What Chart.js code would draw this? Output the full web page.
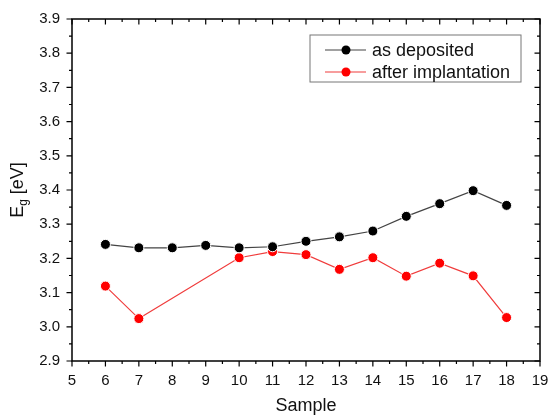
<!DOCTYPE html>
<html>
<head>
<meta charset="utf-8">
<script src="https://cdn.jsdelivr.net/npm/chart.js@4/dist/chart.umd.min.js"></script>
<style>
  html, body { margin: 0; padding: 0; background: #fff; }
  #wrap { width: 550px; height: 417px; }
</style>
</head>
<body>
<div id="wrap"><canvas id="chart" width="550" height="417"></canvas></div>
<script>
// === ДАННЫЕ ===
const samplesDeposited = [6, 7, 8, 9, 10, 11, 12, 13, 14, 15, 16, 17, 18];
const egDeposited = [3.241, 3.231, 3.231, 3.238, 3.231, 3.234, 3.250, 3.263, 3.280, 3.323, 3.360, 3.398, 3.355];

const samplesImplanted = [6, 7, 10, 11, 12, 13, 14, 15, 16, 17, 18];
const egImplanted = [3.119, 3.024, 3.202, 3.220, 3.211, 3.168, 3.202, 3.148, 3.186, 3.149, 3.027];

const seriesNames = ['as deposited', 'after implantation'];
const xRange = [5, 19];
const yRange = [2.9, 3.9];

const FONT = '"Liberation Sans", Arial, sans-serif';

function toPoints(xs, ys) {
    return xs.map((x, i) => ({ x: x, y: ys[i] }));
}

// === РАМКА И ДЕЛЕНИЯ ===
const framePlugin = {
    id: 'frame',
    afterDraw(chart) {
        const ctx = chart.ctx;
        const a = chart.chartArea;
        const xs = chart.scales.x;
        const ys = chart.scales.y;
        ctx.save();
        ctx.strokeStyle = '#000';
        ctx.lineWidth = 1.5;
        ctx.strokeRect(a.left, a.top, a.right - a.left, a.bottom - a.top);
        ctx.lineWidth = 1.2;
        ctx.beginPath();
        // x: основные и промежуточные деления
        for (let v = xRange[0]; v <= xRange[1] + 1e-9; v += 0.5) {
            const px = xs.getPixelForValue(v);
            const major = Math.abs(v - Math.round(v)) < 1e-9;
            const len = major ? 5.5 : 3;
            ctx.moveTo(px, a.bottom); ctx.lineTo(px, a.bottom + len);
            ctx.moveTo(px, a.top); ctx.lineTo(px, a.top + len);
        }
        // y
        for (let k = 0; k <= 20; k++) {
            const v = yRange[0] + k * 0.05;
            const py = ys.getPixelForValue(v);
            const len = k % 2 === 0 ? 5.5 : 3;
            ctx.moveTo(a.left, py); ctx.lineTo(a.left - len, py);
            ctx.moveTo(a.right, py); ctx.lineTo(a.right - len, py);
        }
        ctx.stroke();

        // подпись оси Y: E_g [eV]
        ctx.translate(18, (a.top + a.bottom) / 2);
        ctx.rotate(-Math.PI / 2);
        ctx.fillStyle = '#111';
        ctx.textBaseline = 'middle';
        ctx.font = '18px ' + FONT;
        const wE = ctx.measureText('E').width;
        ctx.font = '12px ' + FONT;
        const wg = ctx.measureText('g').width;
        ctx.font = '18px ' + FONT;
        const wRest = ctx.measureText(' [eV]').width;
        let x0 = -(wE + wg + wRest) / 2;
        ctx.fillText('E', x0, 0);
        ctx.font = '12px ' + FONT;
        ctx.fillText('g', x0 + wE, 6);
        ctx.font = '18px ' + FONT;
        ctx.fillText(' [eV]', x0 + wE + wg, 0);
        ctx.restore();

        // легенда
        ctx.save();
        const bx = a.left + 238, by = a.top + 16, bw = 211, bh = 47;
        ctx.strokeStyle = '#777';
        ctx.lineWidth = 1;
        ctx.strokeRect(bx, by, bw, bh);
        ctx.font = '18px ' + FONT;
        ctx.textBaseline = 'middle';
        chart.data.datasets.forEach((ds, i) => {
            const cy = by + 15 + i * 22;
            ctx.strokeStyle = ds.borderColor;
            ctx.lineWidth = 1.2;
            ctx.beginPath();
            ctx.moveTo(bx + 15, cy); ctx.lineTo(bx + 56, cy);
            ctx.stroke();
            ctx.beginPath();
            ctx.arc(bx + 36, cy, 4.5, 0, Math.PI * 2);
            ctx.fillStyle = ds.pointBackgroundColor;
            ctx.fill();
            ctx.fillStyle = '#111';
            ctx.fillText(ds.label, bx + 62, cy + 1);
        });
        ctx.restore();
    }
};

const chart = new Chart(document.getElementById('chart').getContext('2d'), {
    type: 'line',
    data: {
        datasets: [{
            label: seriesNames[0],
            data: toPoints(samplesDeposited, egDeposited),
            borderColor: '#444',
            borderWidth: 1.2,
            pointBackgroundColor: '#000',
            pointBorderColor: '#fff',
            pointBorderWidth: 1,
            pointRadius: 5,
            tension: 0
        }, {
            label: seriesNames[1],
            data: toPoints(samplesImplanted, egImplanted),
            borderColor: '#f03c3c',
            borderWidth: 1.2,
            pointBackgroundColor: '#ff0000',
            pointBorderColor: '#fff',
            pointBorderWidth: 1,
            pointRadius: 5,
            tension: 0
        }]
    },
    options: {
        responsive: false,
        animation: false,
        layout: { padding: { top: 19, right: 10, left: 0, bottom: 0 } },
        plugins: { legend: { display: false }, tooltip: { enabled: false } },
        scales: {
            x: {
                type: 'linear',
                min: xRange[0], max: xRange[1],
                grid: { display: false, drawTicks: false },
                border: { display: false },
                ticks: { stepSize: 1, padding: 11, color: '#111', font: { size: 15, family: FONT } },
                title: { display: true, text: 'Sample', color: '#111', font: { size: 18, family: FONT }, padding: { top: 0, bottom: 0 } },
                afterFit(s) { s.height = 56; s.paddingLeft = 0; s.paddingRight = 0; }
            },
            y: {
                min: yRange[0], max: yRange[1],
                grid: { display: false, drawTicks: false },
                border: { display: false },
                ticks: { stepSize: 0.1, padding: 12, color: '#111', font: { size: 15, family: FONT },
                         callback: v => v.toFixed(1) },
                afterFit(s) { s.width = 72; s.paddingTop = 0; s.paddingBottom = 0; }
            }
        }
    },
    plugins: [framePlugin]
});
</script>
</body>
</html>
